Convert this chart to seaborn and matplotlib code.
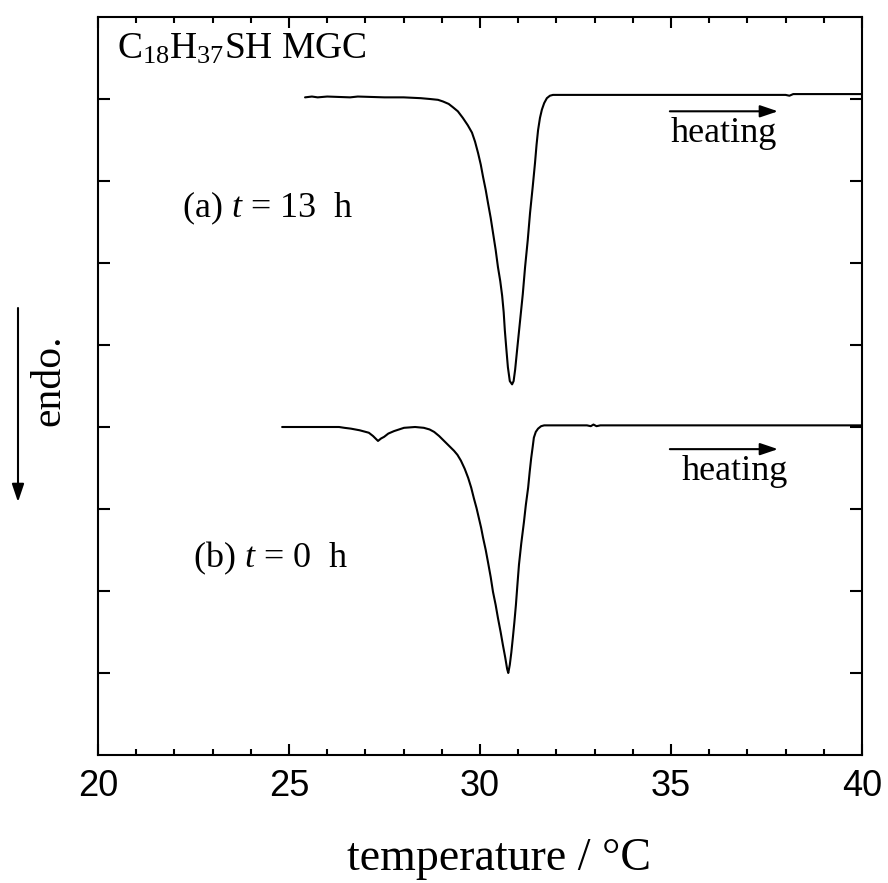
import matplotlib
matplotlib.use('Agg')
import matplotlib.pyplot as plt
import seaborn as sns
import pandas as pd

# ---- data ----
temp_a = [25.42, 25.60, 25.75, 26.00, 26.60, 26.80, 27.50, 28.00, 28.45, 28.69,
          28.90, 29.03, 29.18, 29.29, 29.42, 29.55, 29.68, 29.79, 29.87, 29.95,
          30.02, 30.08, 30.15, 30.21, 30.28, 30.34, 30.41, 30.47, 30.53, 30.58,
          30.62, 30.65, 30.69, 30.73, 30.78, 30.84, 30.88, 30.92, 30.98, 31.05,
          31.12, 31.18, 31.25, 31.31, 31.38, 31.44, 31.48, 31.52, 31.57, 31.62,
          31.68, 31.75, 31.83, 31.91, 33.00, 35.00, 38.00, 38.10, 38.20, 38.30,
          40.00]
signal_a = [8.02, 8.03, 8.02, 8.03, 8.02, 8.03, 8.02, 8.02, 8.01, 8.00,
            7.99, 7.97, 7.94, 7.90, 7.85, 7.77, 7.68, 7.59, 7.48, 7.34,
            7.20, 7.05, 6.89, 6.73, 6.55, 6.37, 6.16, 5.95, 5.78, 5.60,
            5.40, 5.18, 4.95, 4.73, 4.56, 4.52, 4.56, 4.70, 4.98, 5.30,
            5.62, 5.95, 6.28, 6.61, 6.93, 7.22, 7.44, 7.62, 7.77, 7.87,
            7.95, 8.01, 8.04, 8.05, 8.05, 8.05, 8.05, 8.04, 8.06, 8.06,
            8.06]

temp_b = [24.82, 25.50, 26.31, 26.45, 26.62, 26.85, 27.09, 27.20, 27.33, 27.41,
          27.49, 27.60, 27.75, 27.88, 28.01, 28.30, 28.53, 28.68, 28.80, 28.93,
          29.06, 29.19, 29.32, 29.41, 29.50, 29.60, 29.69, 29.77, 29.84, 29.91,
          29.97, 30.03, 30.08, 30.15, 30.21, 30.28, 30.34, 30.41, 30.47, 30.54,
          30.60, 30.66, 30.71, 30.74, 30.78, 30.82, 30.86, 30.90, 30.94, 30.98,
          31.02, 31.08, 31.15, 31.20, 31.26, 31.30, 31.34, 31.38, 31.41, 31.46,
          31.52, 31.60, 31.68, 32.80, 32.90, 32.97, 33.05, 33.15, 40.00]
signal_b = [4.00, 4.00, 4.00, 3.99, 3.98, 3.96, 3.93, 3.89, 3.83, 3.86,
            3.88, 3.92, 3.95, 3.97, 3.99, 4.00, 3.99, 3.97, 3.94, 3.89,
            3.83, 3.77, 3.71, 3.66, 3.59, 3.49, 3.38, 3.26, 3.13, 3.01,
            2.89, 2.77, 2.65, 2.50, 2.35, 2.17, 1.99, 1.83, 1.67, 1.50,
            1.34, 1.19, 1.05, 1.00, 1.10, 1.25, 1.43, 1.62, 1.83, 2.08,
            2.32, 2.58, 2.84, 3.05, 3.26, 3.45, 3.62, 3.76, 3.87, 3.94,
            3.98, 4.01, 4.02, 4.02, 4.01, 4.03, 4.01, 4.02, 4.02]

x_ticks = [20, 25, 30, 35, 40]
x_minor_ticks = list(range(20, 41))
y_ticks = [1, 2, 3, 4, 5, 6, 7, 8]

title_text = r"C$_{18}$H$_{37}$SH MGC"
label_a = r"(a) $t$ = 13  h"
label_b = r"(b) $t$ = 0  h"
arrow_text = "heating"
x_label = "temperature / °C"
y_label = "endo."

# ---- style ----
sns.set_theme(style="ticks")
plt.rcParams['font.family'] = ['Liberation Sans', 'DejaVu Sans']
plt.rcParams['mathtext.fontset'] = 'custom'
plt.rcParams['mathtext.rm'] = 'Liberation Serif'
plt.rcParams['mathtext.it'] = 'Liberation Serif:italic'
plt.rcParams['mathtext.bf'] = 'Liberation Serif:bold'

W, H = 888, 883
fig = plt.figure(figsize=(W / 100, H / 100), dpi=100)
fig.patch.set_facecolor('white')
ax = fig.add_axes([98 / W, 1 - 755 / H, 764 / W, 738 / H])
ax.set_facecolor('white')

df_a = pd.DataFrame({'temperature': temp_a, 'signal': signal_a})
df_b = pd.DataFrame({'temperature': temp_b, 'signal': signal_b})
sns.lineplot(data=df_a, x='temperature', y='signal', ax=ax, color='black',
             lw=1.5, estimator=None, sort=False)
sns.lineplot(data=df_b, x='temperature', y='signal', ax=ax, color='black',
             lw=1.5, estimator=None, sort=False)

ax.set_xlim(20, 40)
ax.set_ylim(0, 9)
ax.set_xticks(x_ticks)
ax.set_xticklabels([str(t) for t in x_ticks])
ax.set_xticks(x_minor_ticks, minor=True)
ax.set_yticks(y_ticks)
ax.set_yticklabels([])

ax.tick_params(axis='both', which='both', direction='in', top=True, right=True,
               width=1.5, color='black')
ax.tick_params(axis='x', which='major', length=8, labelsize=26, pad=10,
               labelcolor='black')
ax.tick_params(axis='x', which='minor', length=4.3)
ax.tick_params(axis='y', which='major', length=8.5, labelleft=False)
for s in ax.spines.values():
    s.set_linewidth(1.5)
    s.set_color('black')

serif = ['Liberation Serif', 'DejaVu Serif']

ax.set_xlabel(x_label, fontfamily=serif, fontsize=33, color='black', va='baseline')
ax.xaxis.set_label_coords((499 - 98) / 764, (755 - 870) / 738)
ax.set_ylabel(y_label, fontfamily=serif, fontsize=30, color='black',
              va='center', ha='center')
ax.yaxis.set_label_coords((49 - 98) / 764, (755 - 380) / 738)

ax.text(20.5, 8.49, title_text, fontfamily=serif, fontsize=27, color='black',
        ha='left', va='baseline')
ax.text(22.2, 6.56, label_a, fontfamily=serif, fontsize=26, color='black',
        ha='left', va='baseline')
ax.text(22.49, 2.29, label_b, fontfamily=serif, fontsize=26, color='black',
        ha='left', va='baseline')

arrow_style = dict(arrowstyle='-|>,head_length=0.8,head_width=0.27',
                   mutation_scale=13.5, lw=1.5, color='black',
                   shrinkA=0, shrinkB=0)
ax.annotate('', xy=(37.80, 7.85), xytext=(34.97, 7.85), arrowprops=arrow_style)
ax.text(35.0, 7.48, arrow_text, fontfamily=serif, fontsize=26, color='black',
        ha='left', va='baseline')
ax.annotate('', xy=(37.80, 3.73), xytext=(34.97, 3.73), arrowprops=arrow_style)
ax.text(35.29, 3.35, arrow_text, fontfamily=serif, fontsize=26, color='black',
        ha='left', va='baseline')

# endo. arrow at the left of the axes
ax.annotate('', xy=(18 / W, 1 - 502 / H), xytext=(18 / W, 1 - 308 / H),
            xycoords='figure fraction', textcoords='figure fraction',
            arrowprops=arrow_style)

fig.savefig('out.png', dpi=100, facecolor='white')
